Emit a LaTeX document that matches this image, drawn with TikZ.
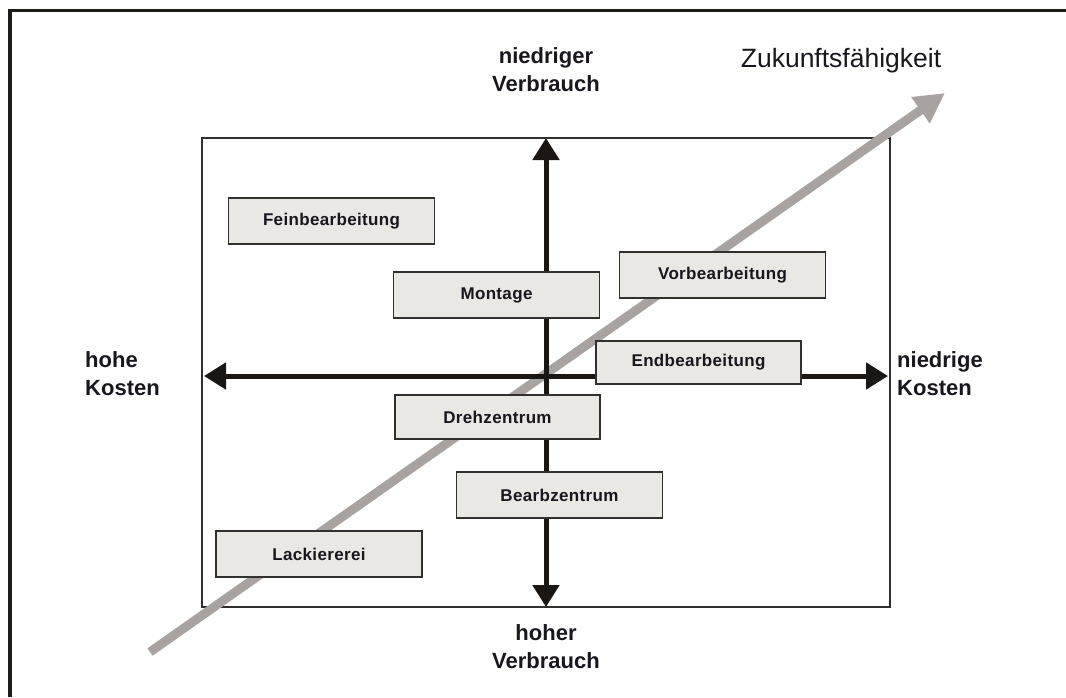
\documentclass[tikz,border=0pt]{standalone}
\usepackage{fontspec}
\setmainfont{Liberation Sans}
\usetikzlibrary{arrows.meta}
\definecolor{framecol}{RGB}{30,28,25}
\definecolor{axiscol}{RGB}{25,22,20}
\definecolor{boxfill}{RGB}{234,232,229}
\definecolor{boxline}{RGB}{50,48,46}
\definecolor{trendcol}{RGB}{168,162,160}
\definecolor{textcol}{RGB}{25,22,30}
\begin{document}
\begin{tikzpicture}[x=1pt,y=-1pt,
  area/.style={draw=boxline, line width=1.4pt, fill=boxfill, minimum width=206pt,
    minimum height=46pt, inner sep=0pt, text=textcol,
    font=\bfseries\fontsize{17}{20}\selectfont\addfontfeature{LetterSpace=2}},
  axis/.style={line width=5pt, draw=axiscol,
    {Triangle[length=22pt,width=26pt]}-{Triangle[length=22pt,width=26pt]}},
  axislabel/.style={font=\bfseries\fontsize{22}{28}\selectfont, text=textcol, inner sep=0pt},
  trend/.style={line width=9pt, draw=trendcol, -{Triangle[length=30pt,width=30pt]}},
]
\useasboundingbox (0,0) rectangle (1066,697);

% outer frame (left and top edges)
\draw[framecol, line width=3.5pt] (9.75,697) -- (9.75,10.5) -- (1066,10.5);

% portfolio field
\draw[boxline, line width=1.5pt] (202,138) rectangle (890,607);

% trend arrow
\coordinate (tstart) at (150,652);
\coordinate (tend) at (945,93);
\draw[trend] (tstart) -- (tend);
\node[font=\fontsize{26.5}{30}\selectfont, text=textcol, inner sep=0pt] (zuk) at (841,61) {Zukunftsfähigkeit};

% axes
\coordinate (ytop) at (546,138);
\coordinate (ybot) at (546,607);
\coordinate (xleft) at (204,376);
\coordinate (xright) at (888,376);
\draw[axis] (ybot) -- (ytop);
\draw[axis] (xleft) -- (xright);

% axis labels
\node[axislabel, align=center] (lowuse) at (546,70) {niedriger\\Verbrauch};
\node[axislabel, align=center] (highuse) at (546,647) {hoher\\Verbrauch};
\node[axislabel, align=left, anchor=west] (highcost) at (85,374) {hohe\\Kosten};
\node[axislabel, align=left, anchor=west] (lowcost) at (897,374) {niedrige\\Kosten};

% production areas
\node[area] (fein) at (331.5,221) {Feinbearbeitung};
\node[area] (mont) at (496.5,295) {Montage};
\node[area] (vor) at (722.5,275) {Vorbearbeitung};
\node[area, minimum width=205pt, minimum height=43pt] (end) at (698.5,362.5) {Endbearbeitung};
\node[area, minimum width=205pt, minimum height=44pt] (dreh) at (497.5,417) {Drehzentrum};
\node[area] (bearb) at (559.5,495) {Bearbzentrum};
\node[area] (lack) at (319,554) {Lackiererei};
\end{tikzpicture}
\end{document}
